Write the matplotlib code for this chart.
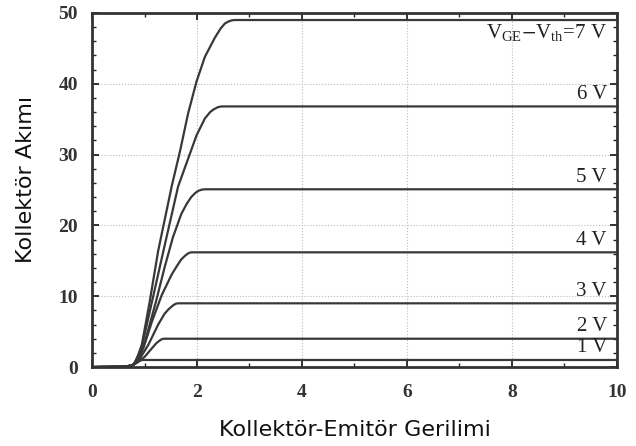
import matplotlib
matplotlib.use("Agg")
from matplotlib import pyplot as plt
from matplotlib.ticker import MultipleLocator

# collector current curves, one per V_GE - V_th step
x_7v = [0, 0.55, 0.7, 0.78, 0.82, 0.88, 0.95, 1.10, 1.26, 1.52, 1.68, 1.83, 1.99, 2.15, 2.34, 2.45, 2.53, 2.60, 2.66, 2.72, 10]
y_7v = [0, 0.05, 0.15, 0.3, 0.7, 1.7, 3.2, 9.3, 16.4, 25.6, 30.6, 35.8, 40.3, 43.8, 46.5, 47.8, 48.5, 48.8, 48.95, 49, 49]

x_6v = [0, 0.55, 0.7, 0.78, 0.82, 0.88, 0.96, 1.12, 1.36, 1.64, 1.83, 1.99, 2.15, 2.25, 2.32, 2.40, 2.47, 10]
y_6v = [0, 0.05, 0.15, 0.3, 0.7, 1.6, 3.2, 8.5, 16.4, 25.5, 29.4, 32.7, 35.1, 36.0, 36.4, 36.7, 36.8, 36.8]

x_5v = [0, 0.55, 0.7, 0.78, 0.82, 0.88, 1.01, 1.22, 1.38, 1.54, 1.70, 1.80, 1.89, 1.97, 2.03, 2.09, 2.15, 10]
y_5v = [0, 0.05, 0.15, 0.3, 0.6, 1.4, 3.6, 9.3, 14.0, 18.3, 21.6, 23.0, 24.0, 24.6, 24.9, 25.05, 25.1, 25.1]

x_4v = [0, 0.55, 0.7, 0.78, 0.83, 0.90, 0.98, 1.14, 1.33, 1.52, 1.62, 1.70, 1.77, 1.82, 1.86, 1.90, 10]
y_4v = [0, 0.05, 0.15, 0.3, 0.6, 1.4, 2.7, 6.4, 10.2, 13.1, 14.3, 15.2, 15.7, 16.0, 16.15, 16.2, 16.2]

x_3v = [0, 0.55, 0.7, 0.78, 0.84, 0.92, 1.07, 1.26, 1.38, 1.45, 1.51, 1.56, 1.60, 1.64, 10]
y_3v = [0, 0.05, 0.15, 0.3, 0.6, 1.3, 3.1, 6.0, 7.5, 8.1, 8.5, 8.8, 8.95, 9.0, 9.0]

x_2v = [0, 0.55, 0.7, 0.78, 0.85, 0.93, 1.01, 1.10, 1.17, 1.23, 1.28, 1.32, 1.36, 10]
y_2v = [0, 0.05, 0.15, 0.3, 0.6, 1.0, 1.5, 2.3, 2.9, 3.4, 3.7, 3.9, 4.0, 4.0]

x_1v = [0, 0.55, 0.7, 0.78, 0.85, 0.90, 0.95, 10]
y_1v = [0, 0.05, 0.15, 0.3, 0.6, 0.85, 1.0, 1.0]

curves = [(x_1v, y_1v), (x_2v, y_2v), (x_3v, y_3v), (x_4v, y_4v),
          (x_5v, y_5v), (x_6v, y_6v), (x_7v, y_7v)]
curve_labels = ["1 V", "2 V", "3 V", "4 V", "5 V", "6 V",
                r"$\mathregular{V_{GE}}$$-$$\mathregular{V_{th}}$=7 V"]
label_y = [1.0, 4.0, 9.0, 16.2, 25.1, 36.8, 48.7]

x_ticks = [0, 2, 4, 6, 8, 10]
y_ticks = [0, 10, 20, 30, 40, 50]

fig = plt.figure(figsize=(6.36, 4.46), dpi=100)
ax = fig.add_axes([0.1447, 0.177, 0.8253, 0.794])

for xs, ys in curves:
    ax.plot(xs, ys, color="#383838", lw=1.6, solid_capstyle="butt")

serif = {"family": "Liberation Serif", "size": 15}
for text, yv in zip(curve_labels, label_y):
    if "=" in text:
        ax.text(9.81, yv, text, ha="right", va="top", color="#222222",
                fontdict=serif, math_fontfamily="stix")
    else:
        ax.text(9.81, yv + 0.35, text, ha="right", va="bottom", color="#222222",
                fontdict=serif)

ax.set_xlim(0, 10)
ax.set_ylim(0, 50)
ax.set_xticks(x_ticks)
ax.set_yticks(y_ticks)
ax.xaxis.set_minor_locator(MultipleLocator(1))
ax.yaxis.set_minor_locator(MultipleLocator(2))
ax.tick_params(which="both", direction="in", top=True, right=True, color="#222222")
ax.tick_params(which="major", length=5, width=1.3)
ax.tick_params(which="minor", length=3, width=1.0)
for lab in ax.get_xticklabels() + ax.get_yticklabels():
    lab.set_fontfamily("Liberation Serif")
    lab.set_fontsize(14)
    lab.set_fontweight("bold")
    lab.set_color("#333333")
ax.tick_params(axis="x", pad=12)
ax.tick_params(axis="y", pad=10)

ax.grid(True, which="major", linestyle=":", color="#bbbbbb", lw=0.8)
for sp in ax.spines.values():
    sp.set_linewidth(2)
    sp.set_color("#333333")

ax.set_xlabel("Kollektör-Emitör Gerilimi", fontsize=16, family="DejaVu Sans",
              labelpad=14, color="#111111")
ax.set_ylabel("Kollektör Akımı", fontsize=16, family="DejaVu Sans", color="#111111")
ax.yaxis.set_label_coords(-0.106, 0.53)

fig.savefig("out.png", dpi=100)
